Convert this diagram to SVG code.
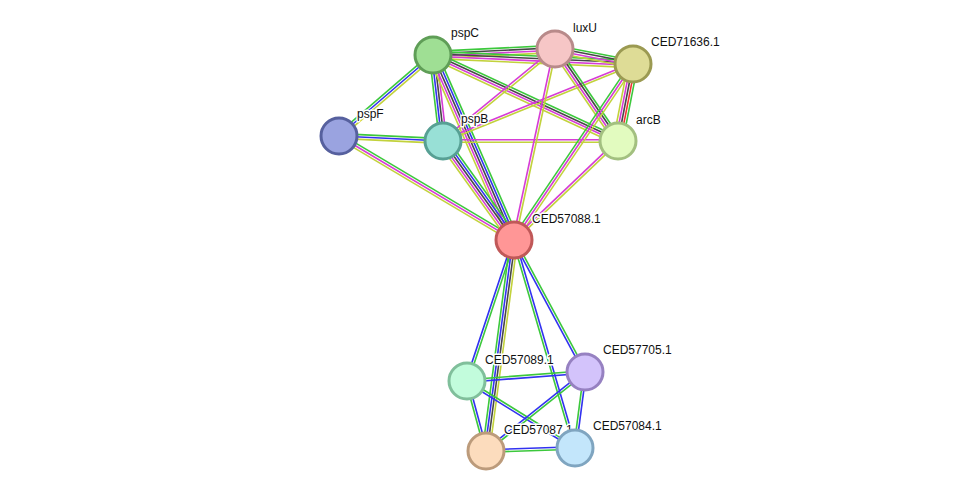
<svg xmlns="http://www.w3.org/2000/svg" width="976" height="497" viewBox="0 0 976 497">
<style>
#edges line{stroke-width:1.6;fill:none}
.g{stroke:#3cc83c}.b{stroke:#3232f0}.k{stroke:#474747}.m{stroke:#d63cd6}.y{stroke:#c2d23c}.r{stroke:#f03232}
.node circle{stroke-width:3}
.lbl{font-family:"Liberation Sans",Arial,sans-serif;font-size:12px;fill:#111;stroke:#fff;stroke-width:3px;stroke-linejoin:round;paint-order:stroke}
</style>
<rect width="976" height="497" fill="#fff"/>
<g id="edges">
<g transform="translate(433 55) rotate(-2.82)"><line x2="122.15" y1="-3.6" y2="-3.6" class="g"/><line x2="122.15" y1="-1.2" y2="-1.2" class="k"/><line x2="122.15" y1="1.2" y2="1.2" class="m"/><line x2="122.15" y1="3.6" y2="3.6" class="y"/></g>
<g transform="translate(433 55) rotate(2.58)"><line x2="200.2" y1="-3.6" y2="-3.6" class="g"/><line x2="200.2" y1="-1.2" y2="-1.2" class="k"/><line x2="200.2" y1="1.2" y2="1.2" class="m"/><line x2="200.2" y1="3.6" y2="3.6" class="y"/></g>
<g transform="translate(555 49) rotate(10.89)"><line x2="79.43" y1="-3.6" y2="-3.6" class="g"/><line x2="79.43" y1="-1.2" y2="-1.2" class="k"/><line x2="79.43" y1="1.2" y2="1.2" class="m"/><line x2="79.43" y1="3.6" y2="3.6" class="y"/></g>
<g transform="translate(433 55) rotate(139.25)"><line x2="124.08" y1="-2.4" y2="-2.4" class="y"/><line x2="124.08" y1="0" y2="0" class="b"/><line x2="124.08" y1="2.4" y2="2.4" class="g"/></g>
<g transform="translate(433 55) rotate(83.37)"><line x2="86.58" y1="-3.6" y2="-3.6" class="m"/><line x2="86.58" y1="-1.2" y2="-1.2" class="k"/><line x2="86.58" y1="1.2" y2="1.2" class="b"/><line x2="86.58" y1="3.6" y2="3.6" class="g"/></g>
<g transform="translate(433 55) rotate(24.93)"><line x2="204.01" y1="-3.6" y2="-3.6" class="g"/><line x2="204.01" y1="-1.2" y2="-1.2" class="k"/><line x2="204.01" y1="1.2" y2="1.2" class="m"/><line x2="204.01" y1="3.6" y2="3.6" class="y"/></g>
<g transform="translate(433 55) rotate(66.36)"><line x2="201.96" y1="-4.8" y2="-4.8" class="g"/><line x2="201.96" y1="-2.4" y2="-2.4" class="b"/><line x2="201.96" y1="0" y2="0" class="k"/><line x2="201.96" y1="2.4" y2="2.4" class="m"/><line x2="201.96" y1="4.8" y2="4.8" class="y"/></g>
<g transform="translate(339 136) rotate(2.75)"><line x2="104.12" y1="-2.4" y2="-2.4" class="g"/><line x2="104.12" y1="0" y2="0" class="b"/><line x2="104.12" y1="2.4" y2="2.4" class="y"/></g>
<g transform="translate(339 136) rotate(30.72)"><line x2="203.57" y1="-2.4" y2="-2.4" class="g"/><line x2="203.57" y1="0" y2="0" class="m"/><line x2="203.57" y1="2.4" y2="2.4" class="y"/></g>
<g transform="translate(443 141) rotate(54.35)"><line x2="121.83" y1="-4.8" y2="-4.8" class="g"/><line x2="121.83" y1="-2.4" y2="-2.4" class="b"/><line x2="121.83" y1="0" y2="0" class="k"/><line x2="121.83" y1="2.4" y2="2.4" class="m"/><line x2="121.83" y1="4.8" y2="4.8" class="y"/></g>
<g transform="translate(443 141) rotate(0)"><line x2="175" y1="-1.2" y2="-1.2" class="m"/><line x2="175" y1="1.2" y2="1.2" class="y"/></g>
<g transform="translate(443 141) rotate(-39.40)"><line x2="144.94" y1="-1.2" y2="-1.2" class="m"/><line x2="144.94" y1="1.2" y2="1.2" class="y"/></g>
<g transform="translate(443 141) rotate(-22.06)"><line x2="205.01" y1="-1.2" y2="-1.2" class="m"/><line x2="205.01" y1="1.2" y2="1.2" class="y"/></g>
<g transform="translate(555 49) rotate(55.60)"><line x2="111.5" y1="-3.6" y2="-3.6" class="g"/><line x2="111.5" y1="-1.2" y2="-1.2" class="k"/><line x2="111.5" y1="1.2" y2="1.2" class="m"/><line x2="111.5" y1="3.6" y2="3.6" class="y"/></g>
<g transform="translate(555 49) rotate(102.12)"><line x2="195.35" y1="-1.2" y2="-1.2" class="y"/><line x2="195.35" y1="1.2" y2="1.2" class="m"/></g>
<g transform="translate(633 64) rotate(101.02)"><line x2="78.45" y1="-4.8" y2="-4.8" class="g"/><line x2="78.45" y1="-2.4" y2="-2.4" class="r"/><line x2="78.45" y1="0" y2="0" class="k"/><line x2="78.45" y1="2.4" y2="2.4" class="m"/><line x2="78.45" y1="4.8" y2="4.8" class="y"/></g>
<g transform="translate(633 64) rotate(124.06)"><line x2="212.46" y1="-2.4" y2="-2.4" class="y"/><line x2="212.46" y1="0" y2="0" class="m"/><line x2="212.46" y1="2.4" y2="2.4" class="g"/></g>
<g transform="translate(618 141) rotate(136.41)"><line x2="143.59" y1="-1.2" y2="-1.2" class="y"/><line x2="143.59" y1="1.2" y2="1.2" class="m"/></g>
<g transform="translate(514 240) rotate(108.43)"><line x2="148.63" y1="-1.2" y2="-1.2" class="g"/><line x2="148.63" y1="1.2" y2="1.2" class="b"/></g>
<g transform="translate(514 240) rotate(97.56)"><line x2="212.85" y1="-3.6" y2="-3.6" class="y"/><line x2="212.85" y1="-1.2" y2="-1.2" class="k"/><line x2="212.85" y1="1.2" y2="1.2" class="b"/><line x2="212.85" y1="3.6" y2="3.6" class="g"/></g>
<g transform="translate(514 240) rotate(73.65)"><line x2="216.76" y1="-1.2" y2="-1.2" class="b"/><line x2="216.76" y1="1.2" y2="1.2" class="g"/></g>
<g transform="translate(514 240) rotate(61.73)"><line x2="149.88" y1="-1.2" y2="-1.2" class="g"/><line x2="149.88" y1="1.2" y2="1.2" class="b"/></g>
<g transform="translate(467 381) rotate(-4.36)"><line x2="118.34" y1="-1.2" y2="-1.2" class="g"/><line x2="118.34" y1="1.2" y2="1.2" class="b"/></g>
<g transform="translate(467 381) rotate(74.81)"><line x2="72.53" y1="-1.2" y2="-1.2" class="b"/><line x2="72.53" y1="1.2" y2="1.2" class="g"/></g>
<g transform="translate(467 381) rotate(31.81)"><line x2="127.09" y1="-1.2" y2="-1.2" class="g"/><line x2="127.09" y1="1.2" y2="1.2" class="b"/></g>
<g transform="translate(585 372) rotate(141.41)"><line x2="126.66" y1="-1.2" y2="-1.2" class="g"/><line x2="126.66" y1="1.2" y2="1.2" class="b"/></g>
<g transform="translate(585 372) rotate(97.50)"><line x2="76.66" y1="-1.2" y2="-1.2" class="b"/><line x2="76.66" y1="1.2" y2="1.2" class="g"/></g>
<g transform="translate(486 451) rotate(-1.93)"><line x2="89.05" y1="-1.2" y2="-1.2" class="b"/><line x2="89.05" y1="1.2" y2="1.2" class="g"/></g>
</g>
<g id="pspC" class="node"><circle cx="433" cy="55" r="18" fill="#9fdf94" stroke="#5f9e57"/><text x="451" y="37" class="lbl">pspC</text></g>
<g id="luxU" class="node"><circle cx="555" cy="49" r="18" fill="#f6c6c6" stroke="#b88a8a"/><text x="573" y="32" class="lbl">luxU</text></g>
<g id="CED71636.1" class="node"><circle cx="633" cy="64" r="18" fill="#dedc96" stroke="#9b9a52"/><text x="651" y="46" class="lbl">CED71636.1</text></g>
<g id="pspF" class="node"><circle cx="339" cy="136" r="18" fill="#9aa3e0" stroke="#56609e"/><text x="357" y="118" class="lbl">pspF</text></g>
<g id="pspB" class="node"><circle cx="443" cy="141" r="18" fill="#98e0d6" stroke="#57a094"/><text x="461" y="123" class="lbl">pspB</text></g>
<g id="arcB" class="node"><circle cx="618" cy="141" r="18" fill="#e2fbbf" stroke="#a3c080"/><text x="636" y="124" class="lbl">arcB</text></g>
<g id="CED57088.1" class="node"><circle cx="514" cy="240" r="18" fill="#ff9696" stroke="#c05858"/><text x="532" y="223" class="lbl">CED57088.1</text></g>
<g id="CED57089.1" class="node"><circle cx="467" cy="381" r="18" fill="#c2fcdc" stroke="#80bf9b"/><text x="485" y="364" class="lbl">CED57089.1</text></g>
<g id="CED57705.1" class="node"><circle cx="585" cy="372" r="18" fill="#d3c3fb" stroke="#9681c1"/><text x="603" y="354" class="lbl">CED57705.1</text></g>
<g id="CED57087.1" class="node"><circle cx="486" cy="451" r="18" fill="#fcdcbd" stroke="#bc9b7b"/><text x="504" y="434" class="lbl">CED57087.1</text></g>
<g id="CED57084.1" class="node"><circle cx="575" cy="448" r="18" fill="#c3e6fb" stroke="#7fa5c0"/><text x="593" y="430" class="lbl">CED57084.1</text></g>
</svg>
